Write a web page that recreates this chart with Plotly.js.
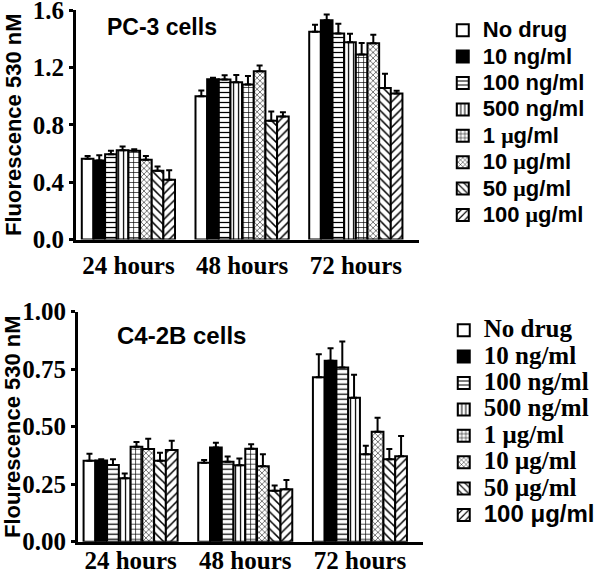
<!DOCTYPE html>
<html><head><meta charset="utf-8">
<script src="https://cdn.plot.ly/plotly-3.0.1.min.js"></script>
<style>body{margin:0;background:#fff}</style>
</head><body>
<div id="chart" style="width:600px;height:572px"></div>
<script>
// ---- data ----
const timepoints = ["24 hours", "48 hours", "72 hours"];
const treatments = ["No drug", "10 ng/ml", "100 ng/ml", "500 ng/ml", "1 μg/ml", "10 μg/ml", "50 μg/ml", "100 μg/ml"];
const pc3Ticks = [0, 0.4, 0.8, 1.2, 1.6];
const c4Ticks = [0, 0.25, 0.5, 0.75, 1.0];

// PC-3 cells: mean per treatment at 24/48/72 h
const pc3NoDrug = [0.563, 0.998, 1.448];
const pc3Ng10   = [0.551, 1.117, 1.529];
const pc3Ng100  = [0.595, 1.115, 1.436];
const pc3Ng500  = [0.623, 1.096, 1.375];
const pc3Ug1    = [0.618, 1.080, 1.290];
const pc3Ug10   = [0.556, 1.173, 1.368];
const pc3Ug50   = [0.479, 0.828, 1.056];
const pc3Ug100  = [0.416, 0.858, 1.017];
// PC-3 error (upper)
const pc3ErrNoDrug = [0.020, 0.040, 0.050];
const pc3ErrNg10   = [0.037, 0.010, 0.040];
const pc3ErrNg100  = [0.023, 0.030, 0.068];
const pc3ErrNg500  = [0.026, 0.050, 0.060];
const pc3ErrUg1    = [0.012, 0.060, 0.080];
const pc3ErrUg10   = [0.027, 0.040, 0.060];
const pc3ErrUg50   = [0.030, 0.065, 0.100];
const pc3ErrUg100  = [0.067, 0.030, 0.020];

// C4-2B cells
const c4NoDrug = [0.352, 0.343, 0.715];
const c4Ng10   = [0.353, 0.410, 0.787];
const c4Ng100  = [0.333, 0.348, 0.757];
const c4Ng500  = [0.276, 0.332, 0.626];
const c4Ug1    = [0.413, 0.404, 0.380];
const c4Ug10   = [0.403, 0.328, 0.478];
const c4Ug50   = [0.352, 0.222, 0.358];
const c4Ug100  = [0.399, 0.228, 0.371];
const c4ErrNoDrug = [0.030, 0.012, 0.100];
const c4ErrNg10   = [0.005, 0.020, 0.054];
const c4ErrNg100  = [0.025, 0.022, 0.113];
const c4ErrNg500  = [0.020, 0.030, 0.100];
const c4ErrUg1    = [0.020, 0.020, 0.037];
const c4ErrUg10   = [0.045, 0.052, 0.061];
const c4ErrUg50   = [0.035, 0.022, 0.045];
const c4ErrUg100  = [0.040, 0.040, 0.089];

const pc3Series = [pc3NoDrug, pc3Ng10, pc3Ng100, pc3Ng500, pc3Ug1, pc3Ug10, pc3Ug50, pc3Ug100];
const pc3Errors = [pc3ErrNoDrug, pc3ErrNg10, pc3ErrNg100, pc3ErrNg500, pc3ErrUg1, pc3ErrUg10, pc3ErrUg50, pc3ErrUg100];
const c4Series  = [c4NoDrug, c4Ng10, c4Ng100, c4Ng500, c4Ug1, c4Ug10, c4Ug50, c4Ug100];
const c4Errors  = [c4ErrNoDrug, c4ErrNg10, c4ErrNg100, c4ErrNg500, c4ErrUg1, c4ErrUg10, c4ErrUg50, c4ErrUg100];

// ---- styles ----
const fills    = ["white", "black", "white", "white", "white", "white", "white", "white"];
const patterns = ["", "", "-", "|", "+", "x", "\\", "/"];
const patSizes = [6, 6, 5, 5, 5, 4, 6, 6];

const SERIF = "Liberation Serif, Times New Roman, serif";
const SANS = "Liberation Sans, Arial, sans-serif";

function topName(n) {
  return '<span style="font-size:22px">' + n.replace("μ", '<span style="font-family:Liberation Serif,serif">μ</span>') + '</span>';
}
function botName(n, i) {
  if (i === treatments.length - 1) return '<span style="font-size:24px;font-family:Liberation Sans,Arial,sans-serif">' + n + '</span>';
  return '<span style="font-size:25px;font-family:Liberation Serif,serif">' + n + '</span>';
}

const traces = [];
function addTraces(series, errors, xa, ya, leg, nameFn) {
  series.forEach((vals, i) => {
    traces.push({
      type: "bar",
      x: timepoints,
      y: vals,
      name: nameFn(treatments[i], i),
      xaxis: xa, yaxis: ya, legend: leg,
      marker: {
        color: fills[i],
        line: {color: "black", width: 2},
        pattern: {shape: patterns[i], fgcolor: "black", bgcolor: fills[i], size: patSizes[i], solidity: 0.25, fillmode: "replace"}
      },
      error_y: {type: "data", symmetric: false, array: errors[i], arrayminus: vals.map(() => 0),
                color: "black", thickness: 2, width: 3}
    });
  });
}
addTraces(pc3Series, pc3Errors, "x", "y", "legend", topName);
addTraces(c4Series, c4Errors, "x2", "y2", "legend2", botName);

const W = 600, H = 572;
const tickFont = {family: SERIF, size: 25, color: "black", weight: "bold"};
const xCommon = {showline: true, linewidth: 3, linecolor: "black", ticks: "", tickfont: tickFont, fixedrange: true,
                 showgrid: false, zeroline: false, ticklabeloverflow: "allow"};
const yCommon = {showline: true, linewidth: 3, linecolor: "black", ticks: "outside", ticklen: 4, tickwidth: 3, tickcolor: "black",
                 tickfont: tickFont, showgrid: false, zeroline: false, tickmode: "array", ticklabeloverflow: "allow"};

const layout = {
  width: W, height: H,
  margin: {l: 0, r: 0, t: 0, b: 0},
  paper_bgcolor: "white", plot_bgcolor: "white",
  barmode: "group", bargap: 0.18, bargroupgap: 0,
  showlegend: true,
  xaxis: Object.assign({}, xCommon, {domain: [77 / W, 424 / W], range: [-0.46, 2.556], anchor: "y", ticklabelstandoff: 1}),
  yaxis: Object.assign({}, yCommon, {domain: [1 - 239.5 / H, 1 - 10 / H], range: [0, 1.6], tickvals: pc3Ticks,
    ticktext: pc3Ticks.map(v => v.toFixed(1)), anchor: "x",
    title: {text: "Fluorescence 530 nM", font: {family: SANS, size: 22, color: "black", weight: "bold"}, standoff: 6}}),
  xaxis2: Object.assign({}, xCommon, {domain: [79 / W, 428 / W], range: [-0.458, 2.55], anchor: "y2", ticklabelstandoff: -6}),
  yaxis2: Object.assign({}, yCommon, {domain: [1 - 541.7 / H, 1 - 311.7 / H], range: [0, 1], tickvals: c4Ticks,
    ticktext: c4Ticks.map(v => v.toFixed(2)), anchor: "x2",
    title: {text: "Flourescence 530 nM", font: {family: SANS, size: 22, color: "black", weight: "bold"}, standoff: 6}}),
  legend: {x: 448 / W, y: 1 - 12 / H, xanchor: "left", yanchor: "top", bgcolor: "rgba(0,0,0,0)",
           font: {family: SANS, size: 18, color: "black", weight: "bold"}, tracegroupgap: 0},
  legend2: {x: 449 / W, y: 1 - 312 / H, xanchor: "left", yanchor: "top", bgcolor: "rgba(0,0,0,0)",
            font: {family: SERIF, size: 18, color: "black", weight: "bold"}, tracegroupgap: 0},
  annotations: [
    {text: "PC-3 cells", x: 164 / W, y: 1 - 27 / H, xref: "paper", yref: "paper", xanchor: "center", yanchor: "middle", showarrow: false,
     font: {family: SANS, size: 23, color: "black", weight: "bold"}},
    {text: "C4-2B cells", x: 184 / W, y: 1 - 335 / H, xref: "paper", yref: "paper", xanchor: "center", yanchor: "middle", showarrow: false,
     font: {family: SANS, size: 24, color: "black", weight: "bold"}}
  ]
};

Plotly.newPlot("chart", traces, layout, {displayModeBar: false, staticPlot: true});
</script>
</body></html>
